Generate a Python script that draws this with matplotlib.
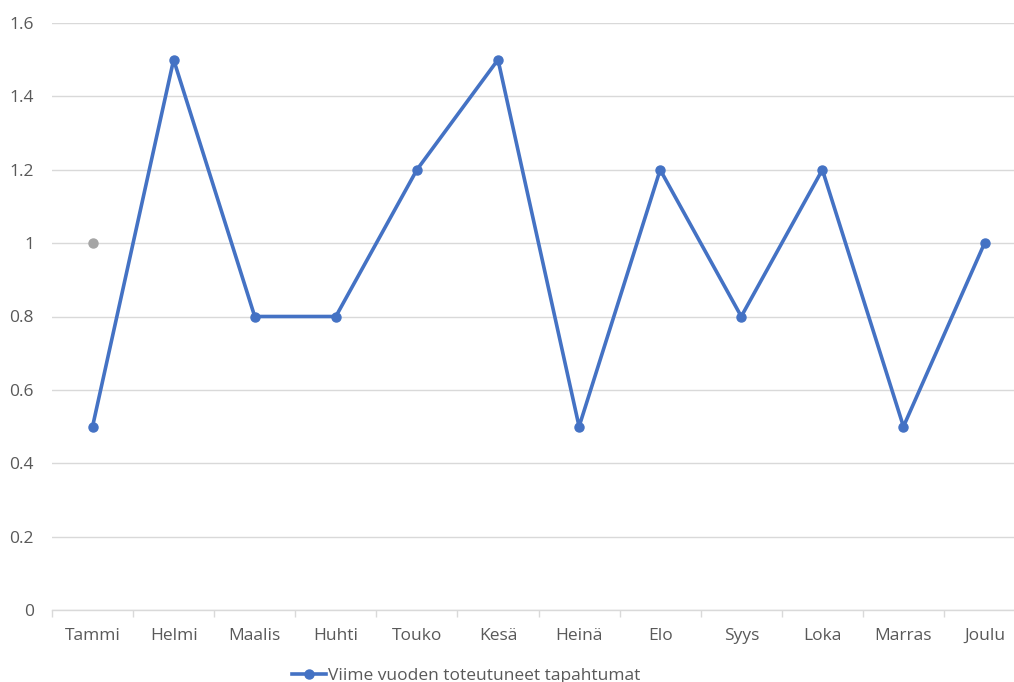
import numpy as np
import matplotlib.pyplot as plt
from matplotlib.ticker import FormatStrFormatter, FixedLocator

months = ["Tammi", "Helmi", "Maalis", "Huhti", "Touko", "Kesä",
          "Heinä", "Elo", "Syys", "Loka", "Marras", "Joulu"]
last_year = [0.5, 1.5, 0.8, 0.8, 1.2, 1.5, 0.5, 1.2, 0.8, 1.2, 0.5, 1.0]
gray_months = ["Tammi"]
gray_values = [1.0]
series_label = "Viime vuoden toteutuneet tapahtumat"
y_ticks = [0, 0.2, 0.4, 0.6, 0.8, 1.0, 1.2, 1.4, 1.6]

plt.rcParams["font.family"] = ["Open Sans", "DejaVu Sans"]
text_col = "#595959"
grid_col = "#D9D9D9"

fig = plt.figure(figsize=(10.14, 6.82), dpi=100)
ax = fig.add_axes([52 / 1014, 72 / 682, 1.0 - 52 / 1014, (610 - 23) / 682])

x = np.arange(len(months))
line, = ax.plot(x, last_year, color="#4472C4", linewidth=2.6, marker="o",
                markersize=6.5, label=series_label, zorder=3)
gx = [months.index(m) for m in gray_months]
ax.plot(gx, gray_values, color="#A5A5A5", linestyle="none", marker="o",
        markersize=6.5, zorder=3)

ax.set_ylim(0, 1.6)
ax.set_yticks(y_ticks)
ax.yaxis.set_major_formatter(FormatStrFormatter("%g"))
ax.set_xlim(-0.5, -0.5 + (1014 - 52) / ((984 - 92) / 11))
ax.set_xticks(x)
ax.set_xticklabels(months)
ax.xaxis.set_minor_locator(FixedLocator(np.arange(-0.5, len(months), 1.0)))

ax.grid(axis="y", color=grid_col, linewidth=1.0)
ax.set_axisbelow(True)
for s in ["top", "right", "left"]:
    ax.spines[s].set_visible(False)
ax.spines["bottom"].set_color(grid_col)
ax.spines["bottom"].set_linewidth(1.0)

ax.tick_params(axis="y", length=0, pad=13, labelsize=12.5, labelcolor=text_col)
ax.tick_params(axis="x", which="major", length=0, pad=13, labelsize=12.5,
               labelcolor=text_col)
ax.tick_params(axis="x", which="minor", length=5, width=1.0, color=grid_col)

fig.legend(handles=[line], loc="center", bbox_to_anchor=(466 / 1014, 6 / 682),
           frameon=False, handlelength=2.0, handletextpad=0.1, fontsize=12.5,
           labelcolor=text_col)

fig.savefig("out.png", dpi=100)
